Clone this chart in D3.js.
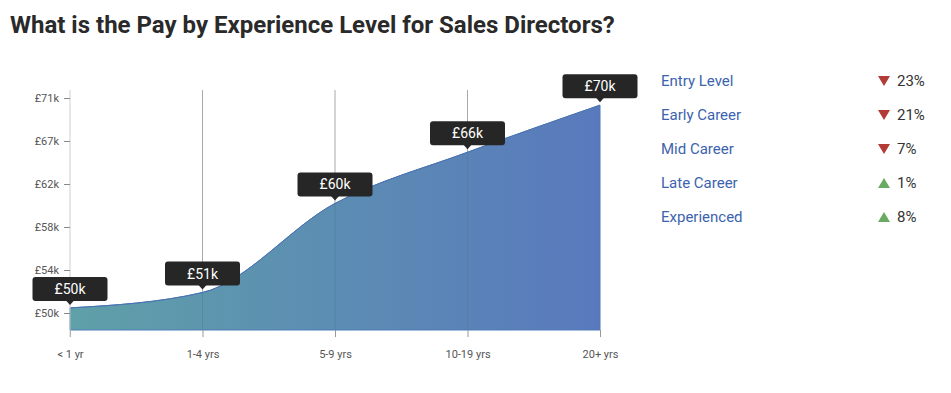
<!DOCTYPE html>
<html>
<head>
<meta charset="utf-8">
<script src="https://cdn.jsdelivr.net/npm/d3@7"></script>
<style>
  body { margin: 0; background: #fff; font-family: Roboto, sans-serif; }
</style>
</head>
<body>
<div id="chart"></div>
<script>
var categories = ['< 1 yr', '1-4 yrs', '5-9 yrs', '10-19 yrs', '20+ yrs'];
var pay = [50.5, 52.0, 60.7, 65.7, 70.3];
var payLabels = ['£50k', '£51k', '£60k', '£66k', '£70k'];
var yTickValues = [50, 54.2, 58.4, 62.6, 66.8, 71];
var yTickLabels = ['£50k', '£54k', '£58k', '£62k', '£67k', '£71k'];
var levels = ['Entry Level', 'Early Career', 'Mid Career', 'Late Career', 'Experienced'];
var changes = [-23, -21, -7, 1, 8];

var width = 951, height = 393;

var svg = d3.select('#chart').append('svg')
  .attr('width', width)
  .attr('height', height);

svg.append('text')
  .attr('x', 10)
  .attr('y', 33)
  .style('font-size', '24px')
  .style('font-weight', 'bold')
  .style('fill', '#2a2a2a')
  .text('What is the Pay by Experience Level for Sales Directors?');

var x = d3.scalePoint().domain(categories).range([70, 600]);
var y = d3.scaleLinear().domain([48.34, 71]).range([330, 98]);

// gradient for the area
var defs = svg.append('defs');
var grad = defs.append('linearGradient')
  .attr('id', 'areaGrad')
  .attr('gradientUnits', 'userSpaceOnUse')
  .attr('x1', x(categories[0])).attr('x2', x(categories[categories.length - 1]))
  .attr('y1', 0).attr('y2', 0);
grad.append('stop').attr('offset', '0%').attr('stop-color', '#5fa0a8');
grad.append('stop').attr('offset', '100%').attr('stop-color', '#5979bd');

// vertical grid lines
svg.append('g').selectAll('line')
  .data(categories.slice(1, -1))
  .join('line')
  .attr('x1', d => x(d)).attr('x2', d => x(d))
  .attr('y1', 90).attr('y2', 330)
  .style('stroke', '#a8a8a8')
  .style('stroke-width', 1);

var data = categories.map((c, i) => ({ cat: c, v: pay[i], label: payLabels[i] }));

var area = d3.area()
  .x(d => x(d.cat))
  .y0(y(48.34))
  .y1(d => y(d.v))
  .curve(d3.curveMonotoneX);

var line = d3.line()
  .x(d => x(d.cat))
  .y(d => y(d.v))
  .curve(d3.curveMonotoneX);

svg.append('path')
  .datum(data)
  .attr('d', area)
  .style('fill', 'url(#areaGrad)')
  .style('stroke', '#4f7cb8')
  .style('stroke-width', 1);

svg.append('path')
  .datum(data)
  .attr('d', line)
  .style('fill', 'none')
  .style('stroke', '#4a74b0')
  .style('stroke-width', 1);

// grid lines over the area (faint)
svg.append('g').selectAll('line')
  .data(categories.slice(1, -1))
  .join('line')
  .attr('x1', d => x(d)).attr('x2', d => x(d))
  .attr('y1', d => y(data[categories.indexOf(d)].v)).attr('y2', 330)
  .style('stroke', '#4f7f9c')
  .style('stroke-width', 1)
  .style('opacity', 0.6);

// x axis
var xAxis = svg.append('g')
  .attr('transform', 'translate(0,330)')
  .call(d3.axisBottom(x).tickSize(7).tickPadding(13));
xAxis.select('.domain').remove();
xAxis.selectAll('line').style('stroke', '#999');
xAxis.selectAll('text')
  .style('font-family', 'Roboto, sans-serif')
  .style('font-size', '11px')
  .style('fill', '#555');

// y axis
var yAxis = svg.append('g')
  .attr('transform', 'translate(70,0)')
  .call(d3.axisLeft(y)
    .tickValues(yTickValues)
    .tickFormat((d, i) => yTickLabels[i])
    .tickSize(6)
    .tickPadding(5));
yAxis.select('.domain')
  .attr('d', 'M0,90V337')
  .style('stroke', '#ccc');
yAxis.selectAll('.tick line').style('stroke', '#888');
yAxis.selectAll('text')
  .style('font-family', 'Roboto, sans-serif')
  .style('font-size', '11px')
  .style('fill', '#555');

// tooltips
var tips = svg.append('g').selectAll('g')
  .data(data)
  .join('g')
  .attr('transform', d => 'translate(' + x(d.cat) + ',' + y(d.v) + ')');

tips.append('rect')
  .attr('x', -37.5)
  .attr('y', -31)
  .attr('width', 75)
  .attr('height', 24)
  .attr('rx', 3)
  .style('fill', '#262626');

tips.append('path')
  .attr('d', 'M-4,-7.5L4,-7.5L0,-3Z')
  .style('fill', '#262626');

tips.append('text')
  .attr('y', -19)
  .attr('text-anchor', 'middle')
  .attr('dominant-baseline', 'central')
  .style('fill', '#fff')
  .style('font-size', '14px')
  .text(d => d.label);

// legend
var legend = svg.append('g').selectAll('g')
  .data(levels)
  .join('g')
  .attr('transform', (d, i) => 'translate(0,' + (81 + i * 34) + ')');

legend.append('text')
  .attr('x', 661)
  .attr('dominant-baseline', 'central')
  .style('font-size', '15px')
  .style('fill', '#3c63ad')
  .text(d => d);

legend.append('path')
  .attr('transform', 'translate(884,0)')
  .attr('d', (d, i) => changes[i] < 0 ? 'M-6,-5L6,-5L0,5Z' : 'M-6,5L6,5L0,-5Z')
  .style('fill', (d, i) => changes[i] < 0 ? '#b23b36' : '#6aab63');

legend.append('text')
  .attr('x', 897)
  .attr('dominant-baseline', 'central')
  .style('font-size', '15px')
  .style('fill', '#333')
  .text((d, i) => Math.abs(changes[i]) + '%');
</script>
</body>
</html>
